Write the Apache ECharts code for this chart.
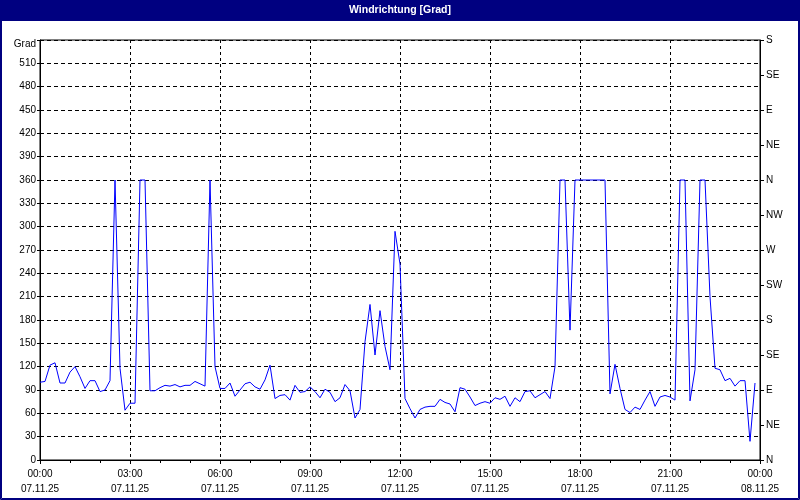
<!DOCTYPE html>
<html>
<head>
<meta charset="utf-8">
<script src="https://cdn.jsdelivr.net/npm/echarts@6/dist/echarts.min.js"></script>
<style>
html,body{margin:0;padding:0;background:#fff;}
#c{width:800px;height:500px;}
</style>
</head>
<body>
<div id="c"></div>
<script>
// Wind direction, 10-minute readings from 07.11.25 00:00 to 23:50
var stepMinutes = 10;
var windDir = [
  100,101,122,125,99,99,113,120,107,92,102,102,88,90,102,360,118,64,73,73,
  360,360,89,89,93,96,95,97,94,96,96,101,98,95,360,120,92,92,99,82,
  90,98,100,94,91,103,122,79,83,84,77,96,87,88,94,88,80,91,87,75,
  80,97,89,54,65,152,200,135,192,146,116,294,252,79,66,54,65,68,69,69,
  78,74,72,62,93,91,81,70,73,75,73,80,78,82,69,80,75,88,89,80,
  84,88,79,120,360,360,167,360,360,360,360,360,360,360,85,123,92,65,61,68,
  65,77,88,69,81,83,81,77,360,360,76,116,360,360,210,118,116,102,105,95,
  102,102,24,99
];
var xTickTimes = ['00:00','03:00','06:00','09:00','12:00','15:00','18:00','21:00','00:00'];
var xTickDates = ['07.11.25','07.11.25','07.11.25','07.11.25','07.11.25','07.11.25','07.11.25','07.11.25','08.11.25'];
var compassLabels = ['N','NE','E','SE','S','SW','W','NW','N','NE','E','SE','S'];
var titleText = 'Windrichtung [Grad]';
var leftUnit = 'Grad';

var seriesData = windDir.map(function(v, i){ return [i * stepMinutes, v]; });
var font = 'Liberation Sans';
var chart = echarts.init(document.getElementById('c'), null, {renderer:'canvas'});
chart.setOption({
  backgroundColor: '#ffffff',
  animation: false,
  graphic: [
    {type:'rect', shape:{x:0,y:0,width:800,height:21}, style:{fill:'#000080'}, z:10},
    {type:'text', x:400, y:10, style:{text:titleText, fill:'#ffffff', font:'bold 10.5px "Liberation Sans"', textAlign:'center', textVerticalAlign:'middle'}, z:11},
    {type:'rect', shape:{x:0.5,y:0.5,width:799,height:499}, style:{fill:'none', stroke:'#000080', lineWidth:1}, z:10},
    {type:'rect', shape:{x:1.5,y:1.5,width:797,height:497}, style:{fill:'none', stroke:'#000080', lineWidth:1}, z:10}
  ],
  grid: {left:40, right:40, top:40, bottom:40, show:true, borderColor:'#000', borderWidth:1, backgroundColor:'transparent'},
  xAxis: {
    type:'value', min:0, max:1440, interval:180,
    axisLine:{show:true, lineStyle:{color:'#000', width:1}},
    axisTick:{show:true, length:4, lineStyle:{color:'#000'}},
    minorTick:{show:true, splitNumber:3, length:3, lineStyle:{color:'#000'}},
    splitLine:{show:true, lineStyle:{color:'#000', type:[3,3], width:1}},
    axisLabel:{
      margin:7, color:'#000', fontFamily:font, fontSize:10, lineHeight:15,
      formatter:function(v){ var k = Math.round(v/180); return xTickTimes[k] + '\n' + xTickDates[k]; }
    }
  },
  yAxis: [
    {
      type:'value', min:0, max:540, interval:30, position:'left',
      axisLine:{show:true, lineStyle:{color:'#000'}},
      axisTick:{show:true, length:3, lineStyle:{color:'#000'}},
      splitLine:{show:true, lineStyle:{color:'#000', type:[4,3], width:1}},
      axisLabel:{margin:4, color:'#000', fontFamily:font, fontSize:10,
        rich:{g:{fontFamily:font, fontSize:10, color:'#000', padding:[8,0,0,0]}},
        formatter:function(v){ return v === 540 ? '{g|' + leftUnit + '}' : String(v); }}
    },
    {
      type:'value', min:0, max:540, interval:45, position:'right',
      axisLine:{show:true, lineStyle:{color:'#000'}},
      axisTick:{show:true, length:4, lineStyle:{color:'#000'}},
      splitLine:{show:false},
      axisLabel:{margin:6, color:'#000', fontFamily:font, fontSize:10,
        formatter:function(v){ return compassLabels[Math.round(v/45)]; }}
    }
  ],
  series: [{
    type:'line', data:seriesData, yAxisIndex:0, showSymbol:false, symbol:'none',
    lineStyle:{color:'#0000ff', width:1}, smooth:false, z:5
  }]
});
</script>
</body>
</html>
